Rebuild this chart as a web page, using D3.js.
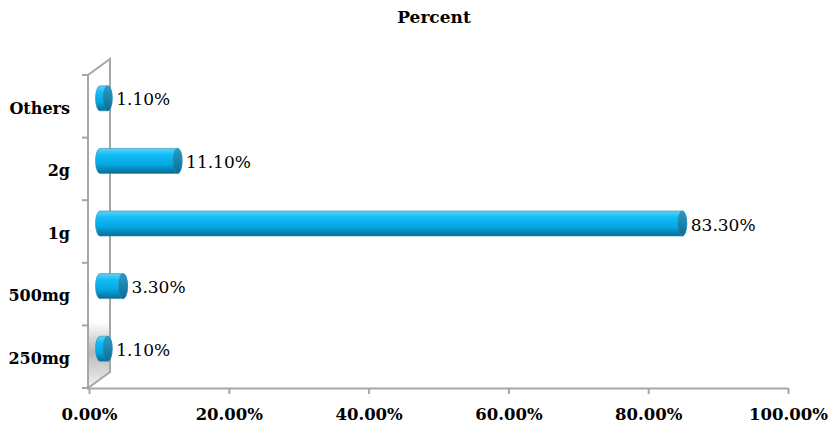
<!DOCTYPE html>
<html>
  <head>
    <title>Percent</title>
    <script src="https://d3js.org/d3.v7.min.js"></script>
    <style>
      body { margin: 0; background: white; }
      text { font-family: "DejaVu Serif", serif; fill: black; }
      .tick text { font-size: 16px; font-weight: bold; }
    </style>
  </head>
  <body>
    <script>
        let width = 838, height = 435;

        // data
        let categories = ["Others", "2g", "1g", "500mg", "250mg"];
        let values = [1.1, 11.1, 83.3, 3.3, 1.1];
        let ticks = [0, 20, 40, 60, 80, 100];

        let depthX = 22, depthY = -16;   // 3d wall offset
        let barR = 12.5;                 // half bar thickness

        let svg = d3.select("body").append("svg")
                    .attr("width", width).attr("height", height);

        let x = d3.scaleLinear().domain([0, 100]).range([89, 788]);
        let y = d3.scaleBand().domain(categories).range([75, 388]);

        let defs = svg.append("defs");
        let body = defs.append("linearGradient").attr("id", "cyl")
            .attr("x1", 0).attr("y1", 0).attr("x2", 0).attr("y2", 1);
        body.append("stop").attr("offset", "0%").attr("stop-color", "#5fd3fb");
        body.append("stop").attr("offset", "25%").attr("stop-color", "#12bdf5");
        body.append("stop").attr("offset", "65%").attr("stop-color", "#03a6e0");
        body.append("stop").attr("offset", "100%").attr("stop-color", "#0a6c95");

        let cap = defs.append("linearGradient").attr("id", "cap")
            .attr("x1", 0).attr("y1", 0).attr("x2", 0).attr("y2", 1);
        cap.append("stop").attr("offset", "0%").attr("stop-color", "#2a9cc8");
        cap.append("stop").attr("offset", "100%").attr("stop-color", "#0d6c94");

        let wallGrad = defs.append("linearGradient").attr("id", "wall")
            .attr("x1", 0).attr("y1", 0).attr("x2", 0).attr("y2", 1);
        wallGrad.append("stop").attr("offset", "0%").attr("stop-color", "#ffffff");
        wallGrad.append("stop").attr("offset", "80%").attr("stop-color", "#ffffff");
        wallGrad.append("stop").attr("offset", "89%").attr("stop-color", "#b8b8b8");
        wallGrad.append("stop").attr("offset", "100%").attr("stop-color", "#f4f4f4");

        // side wall
        let y0 = y.range()[0], y1 = y.range()[1], wx = x(0) - 1;
        svg.append("path")
            .attr("d", `M${wx},${y0} L${wx + depthX},${y0 + depthY} L${wx + depthX},${y1 + depthY} L${wx},${y1} Z`)
            .attr("fill", "url(#wall)")
            .attr("stroke", "#a6a6a6").attr("stroke-width", 2);

        // x axis
        let xAxis = svg.append("g").attr("transform", `translate(0,${y1})`)
            .call(d3.axisBottom(x).tickValues(ticks).tickSize(6).tickPadding(14)
                .tickFormat(d => d.toFixed(2) + "%"));
        xAxis.select(".domain").attr("stroke", "#a6a6a6").attr("stroke-width", 2)
            .attr("d", `M${wx},0.5 H${x(100)}`);
        xAxis.selectAll(".tick line").attr("stroke", "#a6a6a6").attr("stroke-width", 2);
        xAxis.selectAll(".tick text").style("font-size", "16.5px");

        // y axis (category labels)
        let yAxis = svg.append("g").attr("transform", `translate(${wx},0)`)
            .call(d3.axisLeft(y).tickSize(0).tickPadding(18));
        yAxis.select(".domain").remove();
        yAxis.selectAll(".tick text").attr("dy", "0.45em");
        svg.append("g").selectAll("line")
            .data(categories.map(c => y(c)).concat([y1]))
            .enter().append("line")
            .attr("x1", wx - 6).attr("x2", wx).attr("y1", d => d).attr("y2", d => d)
            .attr("stroke", "#a6a6a6").attr("stroke-width", 2);

        // cylinders
        let bars = svg.append("g").selectAll("g").data(categories).enter().append("g");
        bars.each(function(c, i) {
            let g = d3.select(this);
            let cy = y(c) + y.bandwidth() / 2 + depthY / 2;
            let xa = x(0) + depthX / 2, xb = x(values[i]) + depthX / 2;
            let rx = 4.5;
            g.append("path")
                .attr("d", `M${xa},${cy - barR} L${xb},${cy - barR} A${rx},${barR} 0 0 1 ${xb},${cy + barR}` +
                           ` L${xa},${cy + barR} A${rx},${barR} 0 0 1 ${xa},${cy - barR} Z`)
                .attr("fill", "url(#cyl)").attr("stroke", "#2c8ab0").attr("stroke-width", 0.6);
            g.append("ellipse")
                .attr("cx", xb).attr("cy", cy).attr("rx", rx).attr("ry", barR)
                .attr("fill", "url(#cap)").attr("stroke", "#2c8ab0").attr("stroke-width", 0.6);
            g.append("text")
                .attr("x", xb + rx + 4).attr("y", cy + 7)
                .style("font-size", "17px")
                .text(values[i].toFixed(2) + "%");
        });

        // title
        svg.append("text").attr("x", 434).attr("y", 23)
            .attr("text-anchor", "middle")
            .style("font-size", "17px").style("font-weight", "bold")
            .text("Percent");
    </script>
  </body>
</html>
